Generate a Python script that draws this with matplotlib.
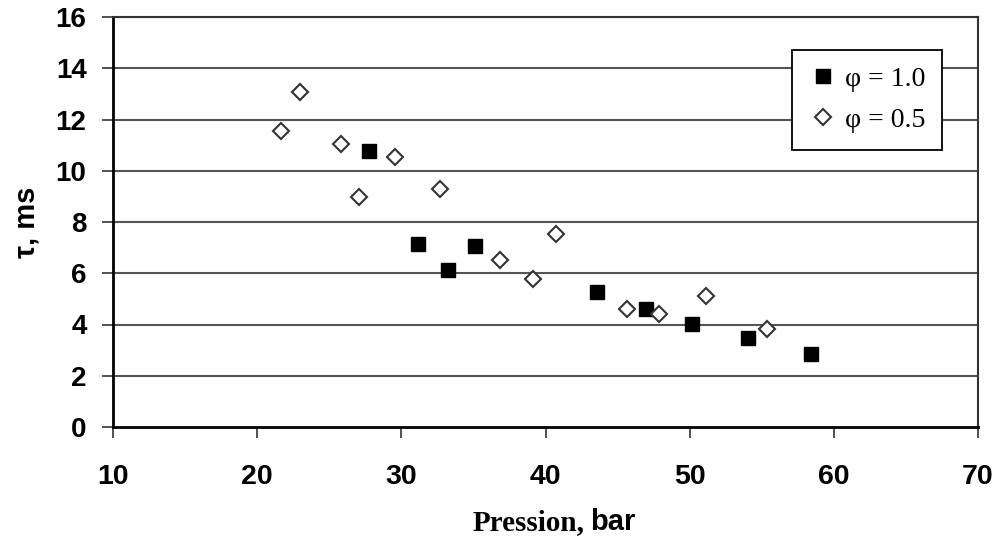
import matplotlib
matplotlib.use("Agg")
import matplotlib.pyplot as plt

# Data
p_phi10 = [27.75, 31.15, 33.25, 35.1, 43.6, 46.95, 50.15, 54.05, 58.4]
tau_phi10 = [10.76, 7.16, 6.14, 7.08, 5.28, 4.62, 4.03, 3.48, 2.86]

p_phi05 = [21.65, 22.95, 25.8, 27.05, 29.55, 32.7, 36.85, 39.15, 40.7, 45.65, 47.9, 51.1, 55.35]
tau_phi05 = [11.54, 13.07, 11.03, 8.96, 10.52, 9.27, 6.53, 5.79, 7.55, 4.62, 4.42, 5.13, 3.83]

xticks = [10, 20, 30, 40, 50, 60, 70]
yticks = [0, 2, 4, 6, 8, 10, 12, 14, 16]

fig = plt.figure(figsize=(10.02, 5.46), dpi=100)
ax = fig.add_axes([113/1002, 1-427/546, (978-113)/1002, (427-17)/546])

ax.set_xlim(10, 70)
ax.set_ylim(0, 16)
ax.set_xticks(xticks)
ax.set_yticks(yticks)

for y in yticks[1:]:
    ax.axhline(y, color='#555555', lw=1.5, zorder=1)

ax.plot(p_phi10, tau_phi10, linestyle='none', marker='s', markersize=10,
        color='black', markeredgecolor='black', zorder=3, label='φ = 1.0')
ax.plot(p_phi05, tau_phi05, linestyle='none', marker='D', markersize=8.5,
        markerfacecolor='white', markeredgecolor='#333333', markeredgewidth=1.5,
        zorder=3, label='φ = 0.5')

for s in ['left', 'bottom']:
    ax.spines[s].set_linewidth(2.0)
    ax.spines[s].set_color('black')
for s in ['right', 'top']:
    ax.spines[s].set_linewidth(1.5)
    ax.spines[s].set_color('#333333')

ax.tick_params(axis='both', direction='out', length=8, width=1.2, color='#333333')
ax.tick_params(axis='y', pad=11)
ax.tick_params(axis='x', pad=19)
for lab in ax.get_yticklabels():
    lab.set_fontfamily('Liberation Sans')
    lab.set_fontweight('bold')
    lab.set_fontsize(20)
for lab in ax.get_xticklabels():
    lab.set_fontfamily('Liberation Sans')
    lab.set_fontweight('bold')
    lab.set_fontsize(20.5)

ax.set_ylabel('τ, ms', fontfamily='Liberation Sans', fontweight='bold', fontsize=21, labelpad=11)

# x label: "Pression," in serif, "bar" in bold sans
fig.text(585/1002, 1-530/546, 'Pression,', fontfamily='Liberation Serif', fontweight='bold',
         fontsize=21, ha='right', va='baseline')
fig.text(590/1002, 1-530/546, 'bar', fontfamily='Liberation Sans', fontweight='bold',
         fontsize=21, ha='left', va='baseline')

leg = ax.legend(loc='upper left',
                bbox_to_anchor=((792-113)/865, (427-50)/410),
                frameon=True, fancybox=False, edgecolor='black', framealpha=1,
                prop={'family': 'Liberation Serif', 'size': 20},
                handletextpad=0.3, handlelength=1.0, labelspacing=0.55,
                borderpad=0.6, borderaxespad=0)
leg.get_frame().set_linewidth(1.3)
leg.set_zorder(5)

fig.savefig('out.png', dpi=100)
